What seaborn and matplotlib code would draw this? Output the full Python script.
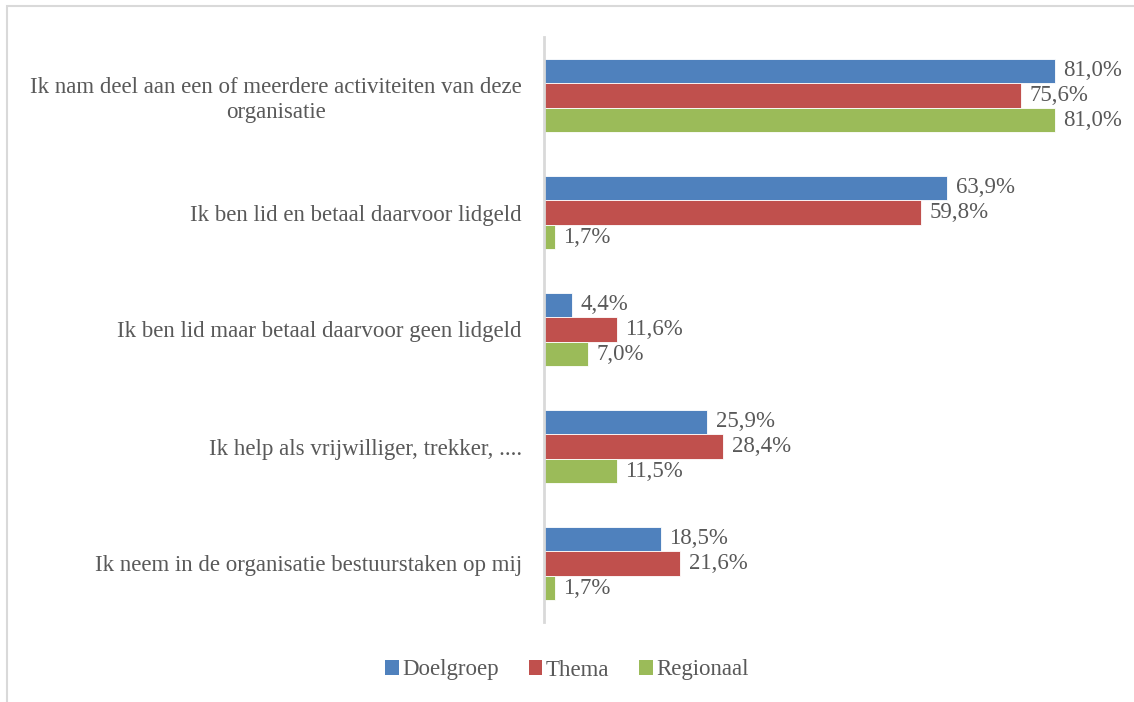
import matplotlib
matplotlib.use("Agg")
import matplotlib.pyplot as plt
import matplotlib.patches as mpatches
import seaborn as sns
import pandas as pd

categories = [
    "Ik nam deel aan een of meerdere activiteiten van deze\norganisatie",
    "Ik ben lid en betaal daarvoor lidgeld",
    "Ik ben lid maar betaal daarvoor geen lidgeld",
    "Ik help als vrijwilliger, trekker, ....",
    "Ik neem in de organisatie bestuurstaken op mij",
]
series = ["Doelgroep", "Thema", "Regionaal"]
doelgroep = [81.0, 63.9, 4.4, 25.9, 18.5]
thema = [75.6, 59.8, 11.6, 28.4, 21.6]
regionaal = [81.0, 1.7, 7.0, 11.5, 1.7]
colors = ["#4F81BD", "#C0504D", "#9BBB59"]

rows = []
for name, vals in zip(series, [doelgroep, thema, regionaal]):
    for cat, v in zip(categories, vals):
        rows.append({"categorie": cat, "groep": name, "waarde": v})
df = pd.DataFrame(rows)

sns.set_theme(style="white")
plt.rcParams["font.family"] = ["Liberation Serif", "DejaVu Serif"]
text_color = "#595959"
fs = 16.5

fig = plt.figure(figsize=(11.34, 7.02), dpi=100)
ax = fig.add_axes([544 / 1134, 1 - 622 / 702, (1112 - 544) / 1134, 585 / 702])

sns.barplot(data=df, y="categorie", x="waarde", hue="groep", order=categories,
            hue_order=series, palette=colors, orient="h", width=0.63,
            saturation=1, edgecolor="white", linewidth=0.6, ax=ax, legend=False)

ax.set_xlim(0, 90)
ax.set_ylim(4.5, -0.5)
ax.set_xlabel("")
ax.set_ylabel("")
ax.set_xticks([])
ax.tick_params(axis="y", length=0, pad=16, labelsize=fs, labelcolor=text_color)
for lbl in ax.get_yticklabels():
    lbl.set_horizontalalignment("right")
    lbl.set_multialignment("center")
    lbl.set_linespacing(1.25)

for side in ["top", "right", "bottom"]:
    ax.spines[side].set_visible(False)
ax.spines["left"].set_color("#d9d9d9")
ax.spines["left"].set_linewidth(2)

for container in ax.containers:
    labels = [f"{b.get_width():.1f}%".replace(".", ",") for b in container]
    ax.bar_label(container, labels=labels, padding=6, fontsize=fs, color=text_color)

handles = [mpatches.Patch(facecolor=c, edgecolor="none", label=s) for s, c in zip(series, colors)]
fig.legend(handles=handles, loc="center", bbox_to_anchor=(0.5, 1 - 670 / 702), ncol=3,
           frameon=False, fontsize=fs, labelcolor=text_color, handlelength=0.6,
           handleheight=0.6, handletextpad=0.15, columnspacing=1.3)

# light frame around the chart area (runs past the bottom and right edges)
fig.patches.append(mpatches.Rectangle((7 / 1134, -0.05), 1.2, 1.05 - 6 / 702,
                                      transform=fig.transFigure, fill=False,
                                      edgecolor="#d9d9d9", linewidth=1.5))

fig.savefig("out.png", dpi=100)
